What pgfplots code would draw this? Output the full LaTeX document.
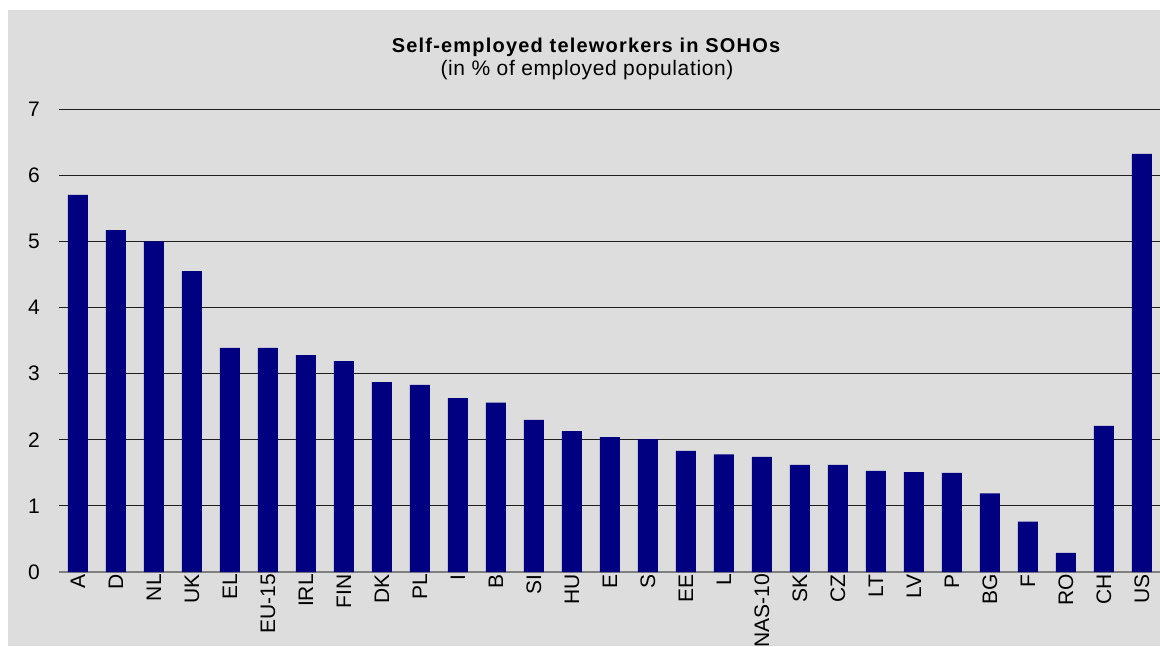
\documentclass[border=0pt]{standalone}
\usepackage{pgfplots}
\pgfplotsset{compat=1.18}
\usepackage{pgfplotstable}
\usepackage{fontspec}
\setmainfont{Liberation Sans}
\definecolor{bg}{RGB}{221,221,221}
\definecolor{navybar}{RGB}{0,0,128}
\definecolor{gridc}{RGB}{30,30,30}
\pgfplotstableread{
x y
0 5.70
1 5.17
2 5.00
3 4.55
4 3.39
5 3.39
6 3.28
7 3.19
8 2.87
9 2.83
10 2.63
11 2.56
12 2.30
13 2.13
14 2.04
15 2.01
16 1.83
17 1.78
18 1.74
19 1.62
20 1.62
21 1.53
22 1.51
23 1.50
24 1.19
25 0.76
26 0.29
27 2.21
28 6.32
}\datatable
\begin{document}
\begin{tikzpicture}[x=1pt,y=1pt]
\path[use as bounding box] (0,0) rectangle (1160,646);
\fill[white] (0,0) rectangle (1160,646);
\fill[bg] (8,0) rectangle (1160,636);
\node[anchor=base, font=\bfseries\fontsize{20}{24}\selectfont\addfontfeature{LetterSpace=6}] at (586,593) {Self-employed teleworkers in SOHOs};
\node[anchor=base, font=\fontsize{21}{24}\selectfont\addfontfeature{LetterSpace=3}] at (587,570) {(in \% of employed population)};
\begin{axis}[
  at={(59pt,74pt)}, anchor=south west,
  width=1102pt, height=463pt, scale only axis,
  xmin=-0.5, xmax=28.5, ymin=0, ymax=7,
  ytick={0,1,2,3,4,5,6,7},
  xtick=data,
  xticklabels={A,D,NL,UK,EL,EU-15,IRL,FIN,DK,PL,I,B,SI,HU,E,S,EE,L,NAS-10,SK,CZ,LT,LV,P,BG,F,RO,CH,US},
  tick label style={font=\fontsize{21}{24}\selectfont},
  xticklabel style={yshift=-2pt, rotate=90, anchor=east, inner sep=0pt},
  yticklabel style={anchor=east, inner sep=0pt, xshift=-19pt},
  ymajorgrids,
  major grid style={gridc, line width=0.9pt},
  major tick length=0pt,
  axis x line*=bottom, axis y line*=left,
  x axis line style={draw=gray, line width=2pt},
  y axis line style={draw=none},
  tick style={draw=none},
  /pgf/number format/assume math mode=true,
]
\addplot[ybar, bar width=20pt, fill=navybar, draw=none] table[x=x, y=y] {\datatable};
\end{axis}
\end{tikzpicture}
\end{document}
